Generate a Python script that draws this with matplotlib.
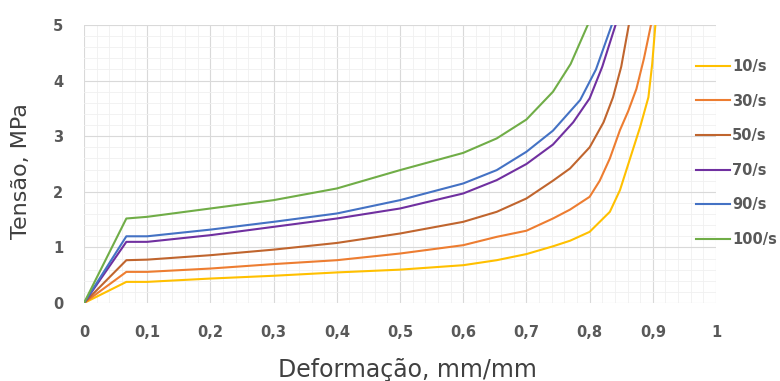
import matplotlib
matplotlib.use("Agg")
import matplotlib.pyplot as plt
from matplotlib.ticker import MultipleLocator

# Stress-strain curves for each strain rate
labels = ["10/s", "30/s", "50/s", "70/s", "90/s", "100/s"]
colors = ["#FFC000", "#ED7D31", "#C0652E", "#7030A0", "#4472C4", "#70AD47"]

strain_10 = [0, 0.067, 0.1, 0.2, 0.3, 0.4, 0.5, 0.6, 0.653, 0.7, 0.742, 0.769, 0.8, 0.832, 0.848,
             0.864, 0.88, 0.893, 0.899, 0.904]
stress_10 = [0, 0.38, 0.38, 0.44, 0.49, 0.55, 0.60, 0.68, 0.77, 0.88, 1.02, 1.12, 1.28, 1.64, 2.03,
             2.6, 3.17, 3.7, 4.3, 5.0]

strain_30 = [0, 0.067, 0.1, 0.2, 0.3, 0.4, 0.5, 0.6, 0.653, 0.7, 0.742, 0.769, 0.8, 0.816, 0.832,
             0.848, 0.861, 0.874, 0.886, 0.897]
stress_30 = [0, 0.56, 0.56, 0.62, 0.70, 0.77, 0.89, 1.04, 1.19, 1.30, 1.52, 1.68, 1.91, 2.2, 2.6,
             3.11, 3.45, 3.85, 4.4, 5.0]

strain_50 = [0, 0.067, 0.1, 0.2, 0.3, 0.4, 0.5, 0.6, 0.653, 0.7, 0.742, 0.769, 0.8, 0.822, 0.837,
             0.85, 0.862]
stress_50 = [0, 0.77, 0.78, 0.86, 0.96, 1.08, 1.25, 1.46, 1.64, 1.88, 2.2, 2.42, 2.8, 3.25, 3.7,
             4.25, 5.0]

strain_70 = [0, 0.067, 0.1, 0.2, 0.3, 0.4, 0.5, 0.6, 0.653, 0.7, 0.742, 0.774, 0.8, 0.82, 0.841]
stress_70 = [0, 1.10, 1.10, 1.22, 1.37, 1.52, 1.70, 1.97, 2.21, 2.5, 2.85, 3.25, 3.68, 4.25, 5.0]

strain_90 = [0, 0.067, 0.1, 0.2, 0.3, 0.4, 0.5, 0.6, 0.653, 0.7, 0.742, 0.785, 0.81, 0.835]
stress_90 = [0, 1.20, 1.20, 1.32, 1.46, 1.61, 1.85, 2.15, 2.39, 2.72, 3.1, 3.65, 4.2, 5.0]

strain_100 = [0, 0.067, 0.1, 0.2, 0.3, 0.4, 0.5, 0.6, 0.653, 0.7, 0.742, 0.77, 0.797]
stress_100 = [0, 1.52, 1.55, 1.70, 1.85, 2.06, 2.39, 2.70, 2.96, 3.3, 3.8, 4.3, 5.0]

strains = [strain_10, strain_30, strain_50, strain_70, strain_90, strain_100]
stresses = [stress_10, stress_30, stress_50, stress_70, stress_90, stress_100]

x_ticks = [0, 0.1, 0.2, 0.3, 0.4, 0.5, 0.6, 0.7, 0.8, 0.9, 1]
x_tick_labels = ["0", "0,1", "0,2", "0,3", "0,4", "0,5", "0,6", "0,7", "0,8", "0,9", "1"]
y_ticks = [0, 1, 2, 3, 4, 5]

fig = plt.figure(figsize=(7.8, 3.81), dpi=100)
ax = fig.add_axes([0.1077, 0.2047, 0.8103, 0.7297])

for xs, ys, lab, col in zip(strains, stresses, labels, colors):
    ax.plot(xs, ys, color=col, lw=1.5, label=lab, solid_joinstyle="round")

ax.set_xlim(0, 1)
ax.set_ylim(0, 5)
ax.set_xticks(x_ticks)
ax.set_xticklabels(x_tick_labels)
ax.set_yticks(y_ticks)
ax.xaxis.set_minor_locator(MultipleLocator(0.02))
ax.yaxis.set_minor_locator(MultipleLocator(0.2))
ax.grid(which="major", color="#d9d9d9", lw=0.8)
ax.grid(which="minor", color="#f0f0f0", lw=0.6)
ax.set_axisbelow(True)
for s in ax.spines.values():
    s.set_visible(False)
ax.tick_params(which="both", length=0)
ax.tick_params(axis="x", pad=16, labelsize=10.5, labelcolor="#595959")
ax.tick_params(axis="y", pad=15, labelsize=10.5, labelcolor="#595959")
for t in ax.get_xticklabels() + ax.get_yticklabels():
    t.set_fontweight("bold")

fig.text(0.027, 0.551, "Tensão, MPa", rotation=90, ha="center", va="center",
         fontsize=16, color="#404040")
fig.text(0.522, 0.0105, "Deformação, mm/mm", ha="center", va="baseline",
         fontsize=17, color="#404040")

leg = fig.legend(loc="upper left", bbox_to_anchor=(0.892, 0.845), frameon=False,
                 handlelength=2.33, handletextpad=0.15, labelspacing=1.34,
                 borderpad=0, borderaxespad=0, fontsize=10.5)
for t in leg.get_texts():
    t.set_color("#595959")
    t.set_fontweight("bold")

fig.savefig("out.png", dpi=100)
